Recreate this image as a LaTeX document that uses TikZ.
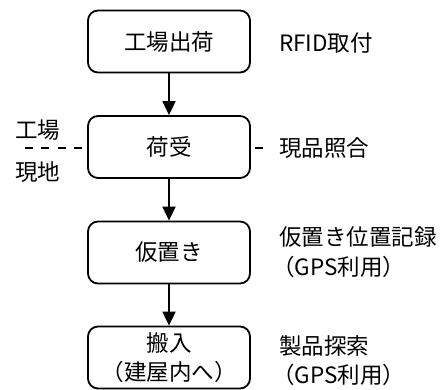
\documentclass[tikz,border=0pt]{standalone}
\usepackage{fontspec}
\setmainfont{Noto Sans CJK JP}
\usetikzlibrary{arrows.meta}
\begin{document}
\begin{tikzpicture}[x=1pt,y=-1pt,
  flowbox/.style={draw,line width=1.8pt,rounded corners=10pt,fill=white,minimum width=162pt,minimum height=62pt,inner sep=0pt,font=\fontsize{22.5}{29}\selectfont,align=center},
  lbl/.style={font=\fontsize{22.5}{26}\selectfont,inner sep=0pt},
  flow/.style={line width=1.8pt,-{Triangle[width=13pt,length=14pt]}}]
\useasboundingbox (0,0) rectangle (443,389);
\coordinate (dl) at (25,148);
\coordinate (dr) at (263,148);
\draw[line width=1.8pt,dash pattern=on 8pt off 8.43pt] (dl) -- (dr);
\node[flowbox] (b1) at (169,41.5) {工場出荷};
\node[flowbox] (b2) at (169,147) {荷受};
\node[flowbox] (b3) at (169,252.5) {仮置き};
\node[flowbox] (b4) at (169,357.5) {搬入\\（建屋内へ）};
\draw[flow] (b1) -- (b2);
\draw[flow] (b2) -- (b3);
\draw[flow] (b3) -- (b4);
\node[lbl,anchor=west] (t1) at (279,43) {RFID取付};
\node[lbl,anchor=west] (t2) at (279,148) {現品照合};
\node[lbl,anchor=west] (t3) at (279,237) {仮置き位置記録};
\node[lbl,anchor=west] (t3b) at (272,267) {（GPS利用）};
\node[lbl,anchor=west] (t4) at (279,346) {製品探索};
\node[lbl,anchor=west] (t4b) at (272,375) {（GPS利用）};
\node[lbl,anchor=west] (k1) at (15,130) {工場};
\node[lbl,anchor=west] (k2) at (15,172) {現地};
\end{tikzpicture}
\end{document}
